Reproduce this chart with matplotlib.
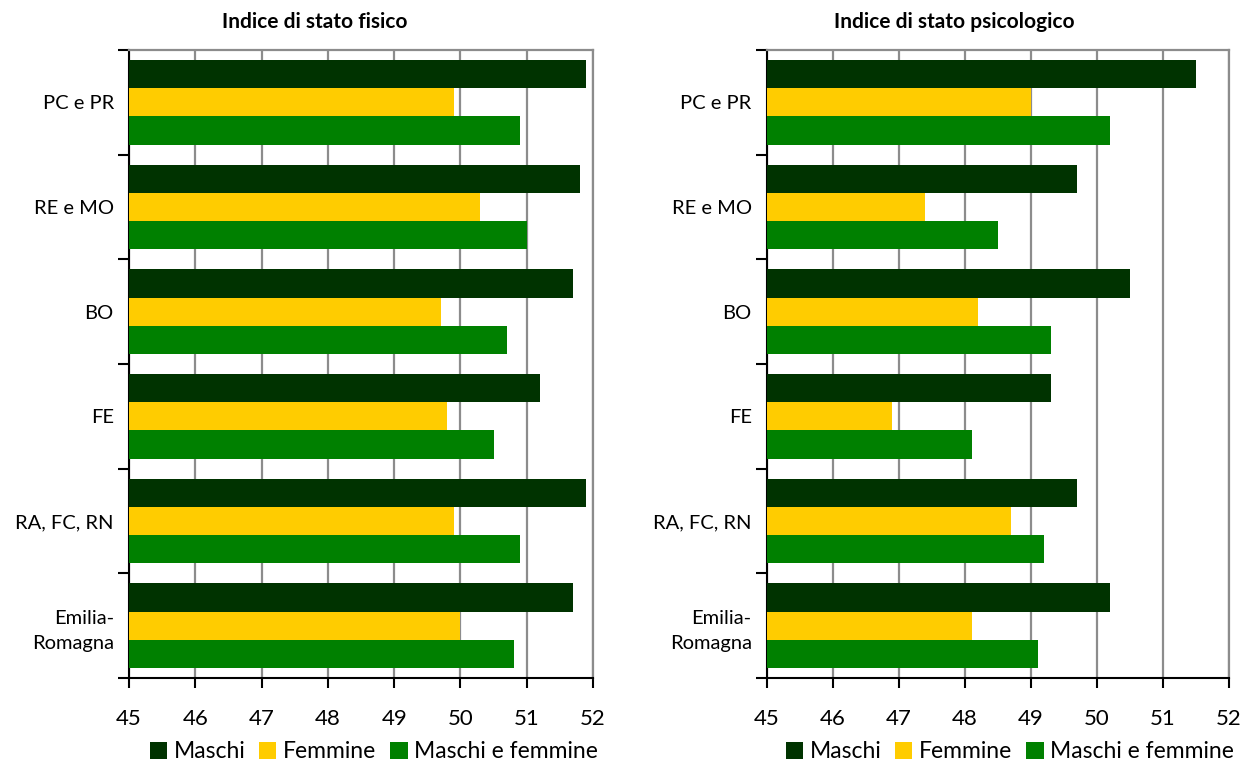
import matplotlib
matplotlib.use("Agg")
import matplotlib.pyplot as plt
import numpy as np
from matplotlib.patches import Patch

plt.rcParams['font.family'] = ['Lato', 'DejaVu Sans']

categories = ["PC e PR", "RE e MO", "BO", "FE", "RA, FC, RN", "Emilia-\nRomagna"]
series_names = ["Maschi", "Femmine", "Maschi e femmine"]

fisico_maschi = [51.9, 51.8, 51.7, 51.2, 51.9, 51.7]
fisico_femmine = [49.9, 50.3, 49.7, 49.8, 49.9, 50.0]
fisico_totale = [50.9, 51.0, 50.7, 50.5, 50.9, 50.8]

psico_maschi = [51.5, 49.7, 50.5, 49.3, 49.7, 50.2]
psico_femmine = [49.0, 47.4, 48.2, 46.9, 48.7, 48.1]
psico_totale = [50.2, 48.5, 49.3, 48.1, 49.2, 49.1]

x_ticks = [45, 46, 47, 48, 49, 50, 51, 52]
colors = ["#003300", "#FFCC00", "#008000"]

W, H = 1248, 765
fig = plt.figure(figsize=(W / 100, H / 100), dpi=100)
ax_left = fig.add_axes([0.1034, 0.1137, 0.3718, 0.8209])
ax_right = fig.add_axes([0.6146, 0.1137, 0.3702, 0.8209])


def draw_panel(ax, series, title, title_x, legend_x):
    n = len(categories)
    pos = np.arange(n)
    h = 0.27
    offsets = [-h, 0.0, h]
    for vals, off, col in zip(series, offsets, colors):
        ax.barh(pos + off, vals, height=h, color=col, zorder=3)
    ax.set_xlim(x_ticks[0], x_ticks[-1])
    ax.set_ylim(n - 0.5, -0.5)
    ax.set_xticks(x_ticks)
    ax.set_xticklabels([str(t) for t in x_ticks], fontsize=16)
    ax.set_yticks(pos)
    ax.set_yticklabels(categories, fontsize=14.5, linespacing=1.55)
    ax.set_yticks(np.arange(n + 1) - 0.5, minor=True)
    ax.tick_params(axis='y', which='major', length=0, pad=11)
    ax.tick_params(axis='y', which='minor', length=8, width=1.5,
                   direction='out', color='black')
    ax.tick_params(axis='x', which='major', length=7, width=1.5,
                   direction='out', color='black', pad=15)
    ax.grid(axis='x', color='#8c8c8c', linewidth=1.6, zorder=0)
    ax.set_axisbelow(True)
    for side in ('left', 'bottom'):
        ax.spines[side].set_color('black')
        ax.spines[side].set_linewidth(1.5)
    for side in ('top', 'right'):
        ax.spines[side].set_color('#8c8c8c')
        ax.spines[side].set_linewidth(1.6)
    fig.text(title_x / W, 1 - 22 / H, title, ha='center', va='center',
             fontsize=15, fontweight='bold')
    handles = [Patch(facecolor=c, edgecolor='none') for c in colors]
    fig.legend(handles, series_names, loc='center',
               bbox_to_anchor=(legend_x / W, 1 - 752 / H), ncol=3,
               frameon=False, fontsize=16.5, handlelength=0.75,
               handleheight=0.75, handletextpad=0.3, columnspacing=0.6,
               borderaxespad=0, borderpad=0)


draw_panel(ax_left, [fisico_maschi, fisico_femmine, fisico_totale],
           "Indice di stato fisico", 315, 374)
draw_panel(ax_right, [psico_maschi, psico_femmine, psico_totale],
           "Indice di stato psicologico", 954, 1010)

fig.savefig("out.png", dpi=100)
